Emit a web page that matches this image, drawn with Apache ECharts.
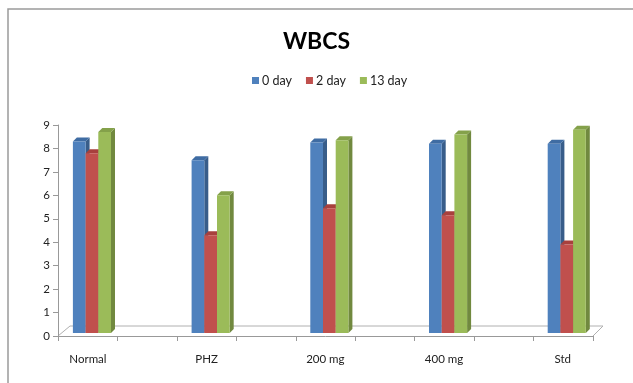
<!DOCTYPE html>
<html>
<head>
<meta charset="utf-8">
<script src="https://cdn.jsdelivr.net/npm/echarts@6/dist/echarts.min.js"></script>
<style>
  html, body { margin: 0; padding: 0; background: #fff; }
  #wbcs-chart { width: 633px; height: 383px; }
</style>
</head>
<body>
<div id="wbcs-chart"></div>
<script>
// 数据
var categories = ['Normal', 'PHZ', '200 mg', '400 mg', 'Std'];
var seriesNames = ['0 day', '2 day', '13 day'];
var day0 = [8.3, 7.5, 8.25, 8.2, 8.2];
var day2 = [7.8, 4.3, 5.45, 5.15, 3.9];
var day13 = [8.7, 6.0, 8.35, 8.6, 8.8];
var yTicks = [0, 1, 2, 3, 4, 5, 6, 7, 8, 9];

var frontColors = ['#4F81BD', '#C0504D', '#9BBB59'];
var sideColors = ['#385D8A', '#8C3836', '#71893F'];
var topColors = ['#3F6CA3', '#A8403D', '#84A14A'];
var depth = 4;   // 3D 深度
var lift = 3;    // 柱子底部离 0 线的距离

var chart = echarts.init(document.getElementById('wbcs-chart'));

function make3dBar(idx) {
  return function (params, api) {
    var cat = api.value(0);
    var val = api.value(1);
    var band = api.size([1, 0])[0];
    var w = band * 0.107;
    var base = api.coord([cat, 0]);
    var top = api.coord([cat, val]);
    var x0 = base[0] - 1.5 * w + idx * w;
    var x1 = x0 + w;
    var y0 = base[1] - lift;
    var y1 = top[1];
    return {
      type: 'group',
      children: [
        {
          type: 'polygon',
          shape: { points: [[x1, y0], [x1 + depth, y0 - depth], [x1 + depth, y1 - depth], [x1, y1]] },
          style: { fill: sideColors[idx] }
        },
        {
          type: 'polygon',
          shape: { points: [[x0, y1], [x1, y1], [x1 + depth, y1 - depth], [x0 + depth, y1 - depth]] },
          style: { fill: topColors[idx] }
        },
        {
          type: 'rect',
          shape: { x: x0, y: y1, width: w, height: y0 - y1 },
          style: { fill: frontColors[idx] }
        }
      ]
    };
  };
}

var allValues = [day0, day2, day13];
var series = allValues.map(function (vals, idx) {
  return {
    name: seriesNames[idx],
    type: 'custom',
    xAxisIndex: 0,
    yAxisIndex: 0,
    itemStyle: { color: frontColors[idx] },
    renderItem: make3dBar(idx),
    encode: { x: 0, y: 1 },
    data: vals.map(function (v, i) { return [i, v]; })
  };
});

chart.setOption({
  backgroundColor: '#fff',
  animation: false,
  textStyle: { fontFamily: 'Lato' },
  title: {
    text: 'WBCS',
    left: 'center',
    top: 25,
    textStyle: { fontSize: 23, fontWeight: 'bold', color: '#000', fontFamily: 'Lato' }
  },
  legend: {
    data: seriesNames,
    top: 69,
    left: 247,
    icon: 'rect',
    itemWidth: 7,
    itemHeight: 7,
    itemGap: 14,
    textStyle: { fontSize: 12.5, color: '#222', padding: [0, 0, 0, -2] }
  },
  grid: [
    { left: 32.6, width: 593.5, top: 125, bottom: 47 },
    { left: 58, right: 40, top: 125, bottom: 47 }
  ],
  xAxis: [
    {
      type: 'category',
      gridIndex: 0,
      data: categories,
      axisLine: { show: false },
      axisTick: { show: false },
      axisLabel: { margin: 17, fontSize: 11.5, color: '#222', padding: [0, 8, 0, 0] }
    },
    {
      type: 'value',
      gridIndex: 1,
      min: 0,
      max: 9,
      interval: 1,
      axisLine: { show: true, lineStyle: { color: '#999' } },
      axisTick: { show: true, length: 5, lineStyle: { color: '#999' } },
      axisLabel: { show: false },
      splitLine: { show: false }
    }
  ],
  yAxis: [
    {
      type: 'value',
      gridIndex: 0,
      min: 0,
      max: 9,
      show: false
    },
    {
      type: 'value',
      gridIndex: 1,
      min: yTicks[0],
      max: yTicks[yTicks.length - 1],
      interval: 1,
      axisLine: { show: true, lineStyle: { color: '#999' } },
      axisTick: { show: true, length: 5, lineStyle: { color: '#999' } },
      axisLabel: { fontSize: 11.5, color: '#222', margin: 8 },
      splitLine: { show: false }
    }
  ],
  series: series
});

// 外框和 3D 底板
var p0 = chart.convertToPixel({ gridIndex: 1 }, [0, 0]);
var p9 = chart.convertToPixel({ gridIndex: 1 }, [9, 0]);
chart.setOption({
  graphic: [
    {
      type: 'rect',
      shape: { x: 8, y: 9, width: 700, height: 500 },
      style: { fill: 'none', stroke: '#9a9a9a', lineWidth: 1.5 },
      silent: true
    },
    {
      type: 'polyline',
      shape: { points: [[p0[0], p0[1]], [p0[0] + 12, p0[1] - 10], [p9[0] + 10, p0[1] - 10], [p9[0], p0[1]]] },
      style: { fill: 'none', stroke: '#b0b0b0', lineWidth: 1 },
      z: 0,
      silent: true
    }
  ]
});
</script>
</body>
</html>
